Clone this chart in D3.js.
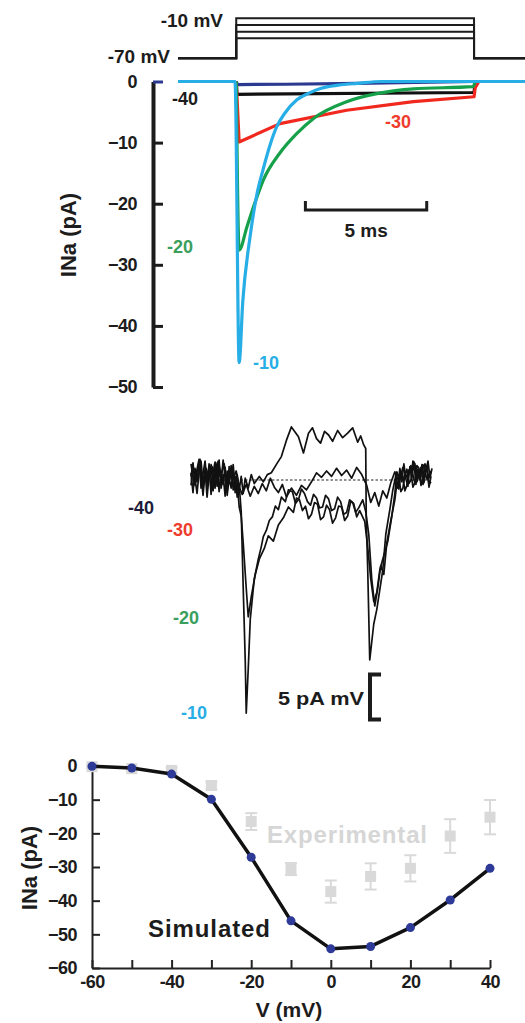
<!DOCTYPE html>
<html>
<head>
<meta charset="utf-8">
<script src="https://cdn.jsdelivr.net/npm/d3@7"></script>
<style>
  body { margin: 0; background: #fff; }
  svg text { font-family: "Liberation Sans", Arial, sans-serif; font-weight: bold; }
</style>
</head>
<body>
<svg id="fig" width="525" height="1023"></svg>
<script>
"use strict";

// ---- panel A: voltage protocol ----
const stepV = [-10, -20, -30, -40];
const holdV = -70;
const pulseOn = 0;
const pulseOff = 9.8;

// ---- panel A: simulated currents (time in ms, current in pA) ----
const tM10 = [-2.4, -0.05, 0.12, 0.27, 0.57, 0.85, 1.1, 1.4, 1.67, 2.0, 2.5, 3.0, 3.5, 4.2, 5.0, 6.0, 11.9];
const iM10 = [0, 0, -46, -36, -25.4, -18.5, -14.5, -10.3, -7.4, -5.2, -3.0, -1.9, -1.1, -0.6, -0.3, 0, 0];
const tM20 = [0, 0.12, 0.44, 0.8, 1.12, 1.8, 2.5, 3.2, 4.55, 5.9, 7.3, 9.75, 9.85];
const iM20 = [0, -27.6, -23.8, -19.5, -16.1, -11.7, -8.5, -6.0, -3.3, -1.9, -1.2, -0.85, 0];
const tM30 = [0, 0.12, 1.8, 4.55, 7.3, 9.8, 9.85, 10.0];
const iM30 = [0, -9.9, -6.9, -4.7, -3.3, -2.5, -1.0, 0];
const tM40 = [0, 0.03, 9.8, 9.85];
const iM40 = [0, -2.1, -1.8, 0];
const tM50 = [0, 0.05, 2.0, 5.0, 9.8];
const iM50 = [0, -0.5, -0.45, -0.3, 0];
const currentTicks = [0, -10, -20, -30, -40, -50];

// ---- panel B: recorded single-channel traces ([time, pA]) ----
const rawA = [[0,0.4],[0.2,1.9],[0.4,-0.6],[0.6,1.2],[0.8,2.3],[1.0,-0.9],[1.2,0.7],[1.4,2.1],[1.6,-0.3],[1.8,1.4],
  [2.0,-1.6],[2.2,0.9],[2.4,2.0],[2.6,-0.7],[2.8,1.1],[3.0,-0.2],[3.2,2.2],[3.4,0.3],[3.6,-1.3],[3.8,1.5],[4.0,0.1],
  [4.2,1.7],[4.4,-0.8],[4.6,0.6],[4.8,-1.1],[5.0,0.4],[5.2,-1.5],[5.4,0.2],[5.7,-0.9],[6.0,0.6],
  [6.3,-0.4],[6.8,0.4],[7.2,-0.2],[7.6,0.6],[8.0,0.8],[8.6,1.9],[9.0,2.6],[9.5,4.4],[10.0,5.9],[10.7,4.8],[11.2,3.0],
  [11.7,5.2],[12.1,5.8],[12.5,4.6],[12.9,4.1],[13.3,5.4],[13.7,5.0],[14.1,4.3],[14.6,5.5],[15.1,4.7],[15.6,5.2],
  [16.1,5.8],[16.6,4.2],[16.9,4.9],[17.2,3.9],[17.4,3.5],
  [17.45,-4],[17.6,-10],[17.8,-20],[18.2,-16],[18.5,-14.4],[19.1,-10],[19.4,-6],[19.8,-3.3],[20.1,-1.1],[20.4,0.5],
  [20.6,-0.9],[20.8,1.3],[21.0,-0.2],[21.2,1.8],[21.4,0.1],[21.6,-0.7],[21.8,1.5],[22.0,0.3],[22.2,2.0],[22.4,-0.5],
  [22.6,1.2],[22.8,0.0],[23.0,1.7],[23.2,-0.3],[23.4,1.1],[23.6,2.1],[23.8,0.2],[24.0,1.3]];
const rawB = [[0,0.8],[0.2,-1.4],[0.4,1.3],[0.6,-0.2],[0.8,2.0],[1.0,0.5],[1.2,-1.7],[1.4,0.9],[1.6,-0.6],[1.8,1.8],
  [2.0,0.2],[2.2,-1.2],[2.4,1.5],[2.6,-0.4],[2.8,2.2],[3.0,-0.9],[3.2,0.6],[3.4,-1.8],[3.6,1.0],[3.8,-0.3],[4.0,1.6],
  [4.2,-1.1],[4.4,0.4],[4.6,-1.9],[4.8,-0.6],[5.0,-3.5],[5.2,-12],[5.4,-20],[5.5,-25.9],
  [5.7,-21],[5.9,-15.5],[6.3,-11],[6.7,-8.8],[7.0,-7.4],[7.2,-6.3],[7.5,-5.6],[7.8,-4.5],[8.1,-4.1],[8.4,-2.9],
  [8.7,-3.3],[9.0,-1.9],[9.4,-2.4],[9.7,-1.1],[10.1,-1.3],[10.4,-2.6],[10.7,-2.2],[11.0,-1.0],[11.3,-1.5],[11.6,-2.4],
  [11.9,-2.8],[12.2,-1.6],[12.5,-2.0],[12.8,-3.1],[13.1,-3.0],[13.4,-1.7],[13.7,-2.1],[14.0,-3.4],[14.3,-3.2],
  [14.6,-1.9],[14.9,-2.4],[15.2,-3.8],[15.5,-3.6],[15.8,-2.2],[16.1,-2.5],[16.4,-3.6],[16.7,-3.1],[17.1,-2.2],
  [17.4,-3.5],[17.7,-6],[18.0,-11],[18.3,-14],[18.6,-12],[18.9,-9.5],[19.2,-10.5],
  [19.5,-7],[19.9,-4.5],[20.3,-2.2],[20.5,-0.4],[20.7,-1.0],[20.9,0.8],[21.1,0.4],[21.3,-1.2],[21.5,-0.6],[21.7,1.1],
  [21.9,0.9],[22.1,-0.8],[22.3,-0.3],[22.5,1.6],[22.7,1.3],[22.9,-0.6],[23.1,0.2],[23.3,1.8],[23.5,1.1],[23.7,-0.5],
  [23.9,-0.2]];
const rawC = [[0,-0.6],[0.2,1.6],[0.4,0.2],[0.6,-1.5],[0.8,0.8],[1.0,2.1],[1.2,-0.4],[1.4,1.2],[1.6,-1.9],[1.8,0.5],
  [2.0,1.7],[2.2,-0.8],[2.4,0.3],[2.6,1.9],[2.8,-1.3],[3.0,0.7],[3.2,-0.5],[3.4,1.4],[3.6,-1.7],[3.8,0.2],[4.0,-0.9],
  [4.2,1.1],[4.4,-1.4],[4.6,-0.3],[4.8,-3.0],[5.0,-4.0],[5.2,-7],[5.5,-12],[5.7,-15.2],
  [6.0,-13],[6.4,-10.5],[6.8,-8.8],[7.3,-7.6],[7.7,-6.2],[8.2,-6.8],[8.7,-5.0],[9.2,-4.2],[9.7,-3.0],[10.2,-3.6],
  [10.5,-2.0],[10.8,-2.2],[11.1,-3.4],[11.4,-2.9],[11.7,-4.3],[12.0,-3.8],[12.3,-2.5],[12.6,-2.7],[12.9,-4.4],
  [13.2,-4.1],[13.5,-2.8],[13.8,-3.3],[14.1,-4.8],[14.4,-4.2],[14.7,-2.9],[15.0,-3.0],[15.3,-4.5],[15.6,-4.0],
  [15.9,-2.4],[16.2,-2.6],[16.5,-4.1],[16.8,-3.4],[17.3,-4.6],[17.6,-7.5],[17.9,-11],[18.2,-13.5],[18.5,-12.5],
  [18.8,-10],[19.2,-8.4],[19.6,-6.8],[20.0,-4.0],[20.3,-1.5],[20.5,0.9],[20.7,0.3],[20.9,-1.3],[21.1,-0.9],
  [21.3,0.6],[21.5,1.2],[21.7,-0.4],[21.9,0.0],[22.1,2.1],[22.3,1.8],[22.5,-0.2],[22.7,0.5],[22.9,1.4],[23.1,-0.5],
  [23.3,0.7],[23.5,1.6],[23.7,-0.8],[23.9,0.4]];
const rawD = [[0,1.8],[0.3,-0.4],[0.6,0.9],[0.9,2.3],[1.2,-1.0],[1.5,1.3],[1.8,0.2],[2.1,1.5],[2.4,-0.9],[2.7,2.1],
  [3.0,0.6],[3.3,1.8],[3.6,-0.3],[3.9,0.7],[4.2,0.1],[4.5,1.0],[4.8,-0.8],[5.1,-1.6],[5.5,-0.5],[5.9,-1.8],[6.3,-0.7],
  [6.7,-1.5],[7.1,-0.4],[7.5,-1.2],[7.9,0.2],[8.3,-0.8],[8.7,-1.4],[9.1,-0.5],[9.5,-1.9],[10.0,-0.9],[10.5,-1.7],
  [11.0,-0.6],[11.5,-1.1],[12.0,-0.2],[12.5,0.8],[13.0,0.3],[13.5,1.0],[14.0,0.4],[14.5,1.3],[15.0,0.5],[15.5,1.1],
  [16.0,0.2],[16.5,1.4],[17.0,0.6],[17.5,-0.6],[17.9,-2.5],[18.3,-1.4],[18.7,-2.9],[19.1,-1.2],[19.5,-2.0],[19.9,-0.3],
  [20.3,0.9],[20.7,-0.2],[21.1,1.4],[21.5,0.3],[21.9,1.6],[22.3,-0.4],[22.7,0.8],[23.1,1.7],[23.5,0.1],[23.9,1.0]];

// ---- panel C: I-V relation ----
const ivV = [-60, -50, -40, -30, -20, -10, 0, 10, 20, 30, 40];
const simI = [-0.1, -0.6, -2.4, -9.9, -27.1, -46.0, -54.3, -53.6, -48.0, -39.8, -30.4];
const expI = [-0.2, -0.8, -1.3, -5.8, -16.5, -30.6, -37.3, -32.8, -30.4, -20.8, -15.2];
const expErr = [0.5, 0.5, 0.8, 1.2, 2.5, 1.8, 3.3, 3.9, 3.9, 5.0, 5.1];
const ivXTicks = [-60, -50, -40, -30, -20, -10, 0, 10, 20, 30, 40];
const ivYTicks = [0, -10, -20, -30, -40, -50, -60];

const svg = d3.select("#fig");
const ink = "#1c1c1c";

/* ================= panel A ================= */
const tA = d3.scaleLinear().domain([-2.4, 11.9]).range([178, 525]);
const yA = d3.scaleLinear().domain([-50, 0]).range([387, 81.5]);
const vA = d3.scaleLinear().domain([-70, -10]).range([58.3, 18.3]);

const stepLine = d3.line().x(d => tA(d[0])).y(d => vA(d[1]));
stepV.forEach(v => {
  svg.append("path")
    .attr("d", stepLine([[-2.4, holdV], [pulseOn, holdV], [pulseOn, v], [pulseOff, v], [pulseOff, holdV], [11.9, holdV]]))
    .attr("fill", "none").attr("stroke", ink).attr("stroke-width", 2);
});
svg.append("text").attr("x", 223).attr("y", 27).attr("text-anchor", "end")
  .style("font-size", "19px").attr("fill", ink).text("-10 mV");
svg.append("text").attr("x", 170).attr("y", 63).attr("text-anchor", "end")
  .style("font-size", "19px").attr("fill", ink).text("-70 mV");

const axA = svg.append("g").attr("transform", "translate(153,0)")
  .call(d3.axisLeft(yA).tickValues(currentTicks).tickSizeInner(-10).tickSizeOuter(0).tickPadding(16));
axA.select(".domain").attr("stroke", ink).attr("stroke-width", 4);
axA.selectAll(".tick line").attr("stroke", ink).attr("stroke-width", 3);
axA.selectAll(".tick").filter(d => d === 0).select("line").attr("stroke", "#2b3990");
axA.selectAll(".tick text").style("font-size", "18px").attr("fill", ink)
  .style("font-family", "'Liberation Sans', Arial, sans-serif").style("font-weight", "bold")
  .attr("letter-spacing", "-0.5");

svg.append("text").attr("transform", "translate(76,235) rotate(-90)")
  .attr("text-anchor", "middle").style("font-size", "22px").attr("fill", ink).text("INa (pA)");

const smooth = d3.line().x(d => tA(d[0])).y(d => yA(d[1])).curve(d3.curveMonotoneX);
const straight = d3.line().x(d => tA(d[0])).y(d => yA(d[1]));
const tracesA = [
  { t: tM50, i: iM50, c: "#2b3990", gen: straight },
  { t: tM40, i: iM40, c: "#111111", gen: straight },
  { t: tM30, i: iM30, c: "#f0281e", gen: straight },
  { t: tM20, i: iM20, c: "#17a04a", gen: smooth },
  { t: tM10, i: iM10, c: "#27aee6", gen: smooth }
];
tracesA.forEach(tr => {
  svg.append("path")
    .attr("d", tr.gen(tr.t.map((t, k) => [t, tr.i[k]])))
    .attr("fill", "none").attr("stroke", tr.c).attr("stroke-width", 3.2)
    .attr("stroke-linejoin", "round");
});

svg.append("text").attr("x", 172).attr("y", 105).style("font-size", "18px").attr("fill", ink).text("-40");
svg.append("text").attr("x", 385).attr("y", 128).style("font-size", "18px").attr("fill", "#ef3b2c").text("-30");
svg.append("text").attr("x", 167).attr("y", 253).style("font-size", "18px").attr("fill", "#3a9e5c").text("-20");
svg.append("text").attr("x", 253).attr("y", 369).style("font-size", "18px").attr("fill", "#27aee6").text("-10");

// 5 ms scale bar
const barT0 = 2.85;
const barY = 210;
svg.append("path")
  .attr("d", `M${tA(barT0)},${barY - 9}V${barY}H${tA(barT0 + 5)}V${barY - 9}`)
  .attr("fill", "none").attr("stroke", ink).attr("stroke-width", 3);
svg.append("text").attr("x", (tA(barT0) + tA(barT0 + 5)) / 2).attr("y", 237)
  .attr("text-anchor", "middle").style("font-size", "19px").attr("fill", ink).text("5 ms");

/* ================= panel B ================= */
const xB = d3.scaleLinear().domain([0, 24]).range([191, 432]);
const yB = d3.scaleLinear().domain([-26, 6]).range([714, 426]);

svg.append("line").attr("x1", xB(0)).attr("x2", xB(23.8)).attr("y1", yB(0)).attr("y2", yB(0))
  .attr("stroke", "#222").attr("stroke-width", 1).attr("stroke-dasharray", "2.5,2");

const rawLine = d3.line().x(d => xB(d[0])).y(d => yB(d[1]));
[rawD, rawC, rawB, rawA].forEach(tr => {
  svg.append("path").attr("d", rawLine(tr))
    .attr("fill", "none").attr("stroke", "#111").attr("stroke-width", 1.7)
    .attr("stroke-linejoin", "round");
});

svg.append("text").attr("x", 128).attr("y", 514).style("font-size", "18px").attr("fill", "#1d1d3a").text("-40");
svg.append("text").attr("x", 167).attr("y", 536).style("font-size", "18px").attr("fill", "#ef3b2c").text("-30");
svg.append("text").attr("x", 173).attr("y", 624).style("font-size", "18px").attr("fill", "#3a9e5c").text("-20");
svg.append("text").attr("x", 181).attr("y", 719).style("font-size", "18px").attr("fill", "#27aee6").text("-10");
svg.append("text").attr("x", 278).attr("y", 705).style("font-size", "18px").attr("fill", ink)
  .attr("textLength", 86).attr("lengthAdjust", "spacingAndGlyphs").text("5 pA mV");

// 5 pA bracket
const brX = 370;
svg.append("path")
  .attr("d", `M${brX + 11},${yB(-21.6)}H${brX}V${yB(-26.6)}H${brX + 11}`)
  .attr("fill", "none").attr("stroke", ink).attr("stroke-width", 4);

/* ================= panel C ================= */
const xC = d3.scaleLinear().domain([-60, 40]).range([92, 490]);
const yC = d3.scaleLinear().domain([-60, 0]).range([968, 766]);

const axCy = svg.append("g").attr("transform", "translate(92,0)")
  .call(d3.axisLeft(yC).tickValues(ivYTicks).tickSizeInner(-8).tickSizeOuter(0).tickPadding(15));
const axCx = svg.append("g").attr("transform", "translate(0,968)")
  .call(d3.axisBottom(xC).tickValues(ivXTicks).tickSizeInner(-8).tickSizeOuter(0).tickPadding(7)
    .tickFormat(d => (d % 20 === 0 ? d : "")));
[axCy, axCx].forEach(ax => {
  ax.select(".domain").attr("stroke", "#222").attr("stroke-width", 2);
  ax.selectAll(".tick line").attr("stroke", "#222").attr("stroke-width", 2);
  ax.selectAll(".tick text").style("font-size", "18px").attr("fill", ink)
    .style("font-family", "'Liberation Sans', Arial, sans-serif").style("font-weight", "bold")
    .attr("letter-spacing", "-0.5");
});
axCy.selectAll(".tick").filter(d => d === 0).select("line").remove();

svg.append("text").attr("transform", "translate(37,868) rotate(-90)")
  .attr("text-anchor", "middle").style("font-size", "22px").attr("fill", ink).text("INa (pA)");
svg.append("text").attr("x", 289).attr("y", 1017)
  .attr("text-anchor", "middle").style("font-size", "21px").attr("fill", ink).text("V (mV)");

// experimental points (grey squares with error bars)
const grey = "#d9d9d9";
const expG = svg.append("g");
ivV.forEach((v, k) => {
  const cx = xC(v);
  expG.append("line").attr("x1", cx).attr("x2", cx)
    .attr("y1", yC(expI[k] + expErr[k])).attr("y2", yC(expI[k] - expErr[k]))
    .attr("stroke", grey).attr("stroke-width", 2);
  [expI[k] + expErr[k], expI[k] - expErr[k]].forEach(e => {
    expG.append("line").attr("x1", cx - 6).attr("x2", cx + 6).attr("y1", yC(e)).attr("y2", yC(e))
      .attr("stroke", grey).attr("stroke-width", 2);
  });
  expG.append("rect").attr("x", cx - 5.5).attr("y", yC(expI[k]) - 5.5)
    .attr("width", 11).attr("height", 11).attr("fill", grey);
});

// simulated curve
svg.append("path")
  .attr("d", d3.line().x(d => xC(d[0])).y(d => yC(d[1]))(ivV.map((v, k) => [v, simI[k]])))
  .attr("fill", "none").attr("stroke", "#111").attr("stroke-width", 3.5).attr("stroke-linejoin", "round");
svg.append("g").selectAll("circle").data(ivV).join("circle")
  .attr("cx", d => xC(d)).attr("cy", (d, k) => yC(simI[k])).attr("r", 4.5).attr("fill", "#2d3a97");

svg.append("text").attr("x", 267).attr("y", 843).style("font-size", "24px").attr("fill", "#d6d6d6")
  .attr("textLength", 160).attr("lengthAdjust", "spacing").text("Experimental");
svg.append("text").attr("x", 148).attr("y", 937).style("font-size", "24px").attr("fill", ink)
  .attr("textLength", 122).attr("lengthAdjust", "spacing").text("Simulated");
</script>
</body>
</html>
